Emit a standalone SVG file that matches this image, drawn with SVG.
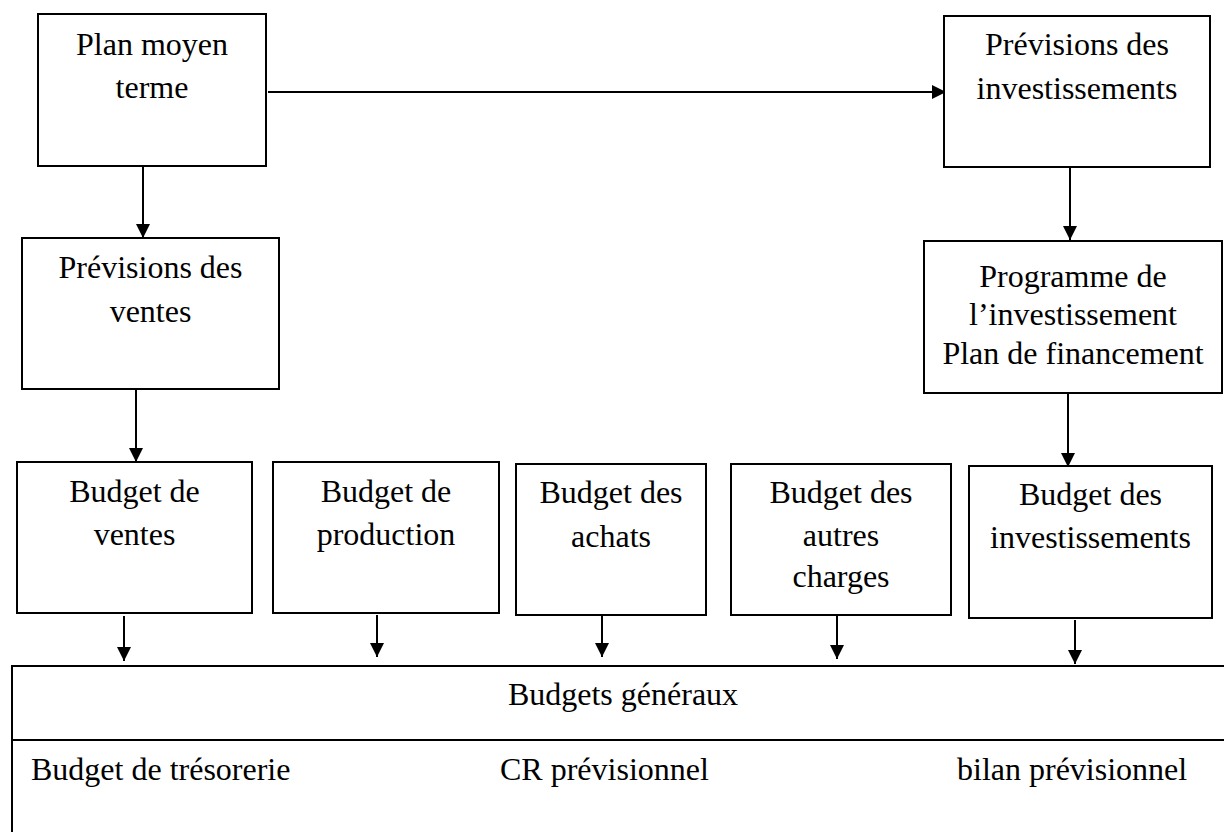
<svg xmlns="http://www.w3.org/2000/svg" width="1224" height="832" viewBox="0 0 1224 832">
  <style>
    .box { fill: #ffffff; stroke: #000000; stroke-width: 2; }
    .lbl { font-family: 'Liberation Serif', 'LiberationSerif', Tinos, 'Times New Roman', 'DejaVu Serif', serif; font-size: 32px; fill: #000000; }
    .mid { text-anchor: middle; }
    .conn { stroke: #000000; stroke-width: 2; fill: none; marker-end: url(#arrow); }
  </style>
  <defs>
    <marker id="arrow" viewBox="0 0 14 14" refX="14" refY="7" markerWidth="14" markerHeight="14" markerUnits="userSpaceOnUse" orient="auto">
      <path d="M0,0 L14,7 L0,14 Z" fill="#000000"/>
    </marker>
  </defs>
  <rect width="1224" height="832" fill="#ffffff"/>

  <!-- connectors -->
  <g id="connectors">
    <line class="conn" x1="268" y1="92" x2="946" y2="92"/>
    <line class="conn" x1="143" y1="166" x2="143" y2="238"/>
    <line class="conn" x1="1070" y1="167" x2="1070" y2="240"/>
    <line class="conn" x1="136" y1="389" x2="136" y2="462"/>
    <line class="conn" x1="1068" y1="393" x2="1068" y2="467"/>
    <line class="conn" x1="124" y1="616" x2="124" y2="661"/>
    <line class="conn" x1="377" y1="615" x2="377" y2="657"/>
    <line class="conn" x1="602" y1="616" x2="602" y2="657"/>
    <line class="conn" x1="837" y1="616" x2="837" y2="659"/>
    <line class="conn" x1="1075" y1="620" x2="1075" y2="664"/>
  </g>

  <g font-family="Liberation Serif, serif">
  <g id="plan-moyen-terme">
    <rect class="box" x="38" y="14" width="228" height="152"/>
    <text class="lbl mid" x="152" y="55">Plan moyen</text>
    <text class="lbl mid" x="152" y="98">terme</text>
  </g>

  <g id="previsions-investissements">
    <rect class="box" x="944" y="16" width="266" height="151"/>
    <text class="lbl mid" x="1077" y="55">Prévisions des</text>
    <text class="lbl mid" x="1077" y="99">investissements</text>
  </g>

  <g id="previsions-ventes">
    <rect class="box" x="22" y="238" width="257" height="151"/>
    <text class="lbl mid" x="150.5" y="278">Prévisions des</text>
    <text class="lbl mid" x="150.5" y="322">ventes</text>
  </g>

  <g id="programme-investissement">
    <rect class="box" x="924" y="241" width="298" height="152"/>
    <text class="lbl mid" x="1073" y="287">Programme de</text>
    <text class="lbl mid" x="1073" y="325">l’investissement</text>
    <text class="lbl mid" x="1073" y="364">Plan de financement</text>
  </g>

  <g id="budget-ventes">
    <rect class="box" x="17" y="462" width="235" height="151"/>
    <text class="lbl mid" x="134.5" y="502">Budget de</text>
    <text class="lbl mid" x="134.5" y="545">ventes</text>
  </g>

  <g id="budget-production">
    <rect class="box" x="273" y="462" width="226" height="151"/>
    <text class="lbl mid" x="386" y="502">Budget de</text>
    <text class="lbl mid" x="386" y="545">production</text>
  </g>

  <g id="budget-achats">
    <rect class="box" x="516" y="464" width="190" height="151"/>
    <text class="lbl mid" x="611" y="503">Budget des</text>
    <text class="lbl mid" x="611" y="547">achats</text>
  </g>

  <g id="budget-autres-charges">
    <rect class="box" x="731" y="464" width="220" height="151"/>
    <text class="lbl mid" x="841" y="503">Budget des</text>
    <text class="lbl mid" x="841" y="546">autres</text>
    <text class="lbl mid" x="841" y="587">charges</text>
  </g>

  <g id="budget-investissements">
    <rect class="box" x="969" y="466" width="243" height="152"/>
    <text class="lbl mid" x="1090.5" y="505">Budget des</text>
    <text class="lbl mid" x="1090.5" y="548">investissements</text>
  </g>

  <g id="budgets-generaux">
    <rect class="box" x="12" y="666" width="1230" height="190"/>
    <line x1="12" y1="740" x2="1242" y2="740" stroke="#000000" stroke-width="2"/>
    <text class="lbl mid" x="623" y="705">Budgets généraux</text>
    <text class="lbl" x="31" y="780">Budget de trésorerie</text>
    <text class="lbl" x="500" y="780">CR prévisionnel</text>
    <text class="lbl" x="957" y="780">bilan prévisionnel</text>
  </g>
  </g>
</svg>
